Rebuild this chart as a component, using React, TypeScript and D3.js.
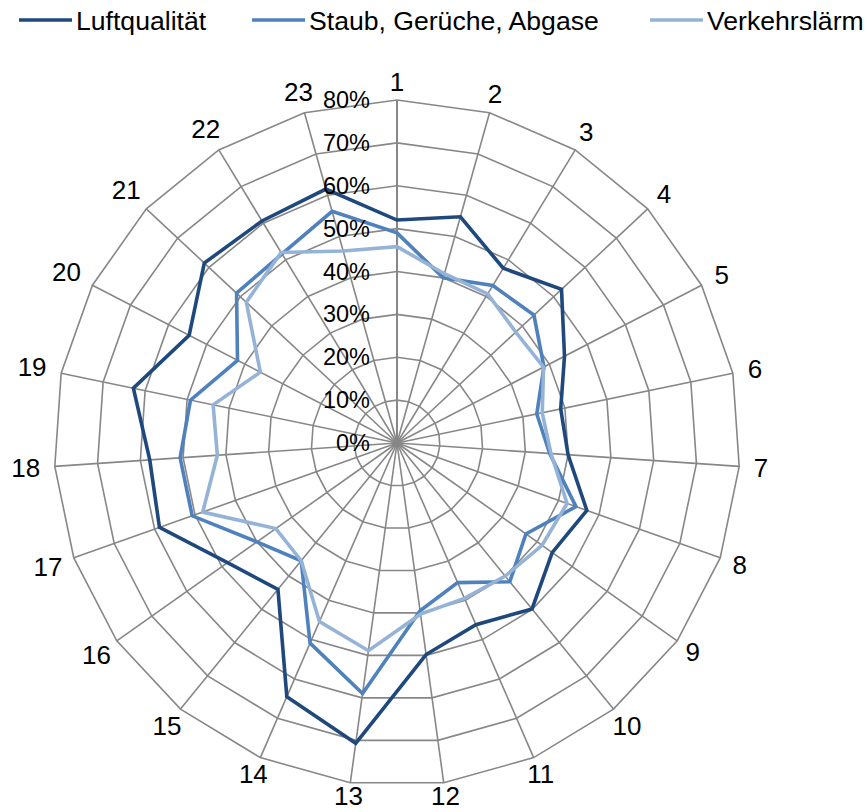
import React from "react";
import * as d3 from "d3";

const categories: string[] = Array.from({ length: 23 }, (_, i) => String(i + 1));

const luftqualitaet: number[] = [
  0.52, 0.548, 0.477, 0.525, 0.44, 0.39, 0.40, 0.47, 0.443, 0.499, 0.462, 0.498,
  0.707, 0.645, 0.44, 0.484, 0.588, 0.578, 0.628, 0.546, 0.615, 0.606, 0.615,
];
const staubGerueche: number[] = [
  0.49, 0.40, 0.43, 0.437, 0.386, 0.333, 0.357, 0.443, 0.368, 0.417, 0.355, 0.395,
  0.59, 0.509, 0.354, 0.40, 0.507, 0.507, 0.492, 0.419, 0.512, 0.516, 0.561,
];
const verkehrslaerm: number[] = [
  0.458, 0.41, 0.407, 0.379, 0.385, 0.346, 0.36, 0.421, 0.414, 0.40, 0.395, 0.403,
  0.489, 0.454, 0.354, 0.346, 0.481, 0.42, 0.438, 0.359, 0.481, 0.52, 0.465,
];

const seriesNames: string[] = ["Luftqualität", "Staub, Gerüche, Abgase", "Verkehrslärm"];
const seriesColors: string[] = ["#1F497D", "#4F81BD", "#95B3D7"];
const tickValues: number[] = [0, 0.1, 0.2, 0.3, 0.4, 0.5, 0.6, 0.7, 0.8];

const W = 867;
const H = 812;
const cx = 397;
const cy = 443;
const R = 343;
const FONT = "Arial, 'Liberation Sans', sans-serif";

export default function App() {
  const series = [luftqualitaet, staubGerueche, verkehrslaerm];
  const n = categories.length;
  const angle = d3
    .scaleLinear()
    .domain([0, n])
    .range([0, 2 * Math.PI]);
  const r = d3.scaleLinear().domain([0, 0.8]).range([0, R]);

  const pt = (i: number, v: number): [number, number] => {
    const a = angle(i);
    return [cx + r(v) * Math.sin(a), cy - r(v) * Math.cos(a)];
  };

  const closed = d3
    .line<[number, number]>()
    .x((d) => d[0])
    .y((d) => d[1])
    .curve(d3.curveLinearClosed);

  const fmt = d3.format(".0%");

  const legendItems = [
    { x: 19, len: 53 },
    { x: 252, len: 53 },
    { x: 650, len: 53 },
  ];

  return (
    <svg
      width={W}
      height={H}
      style={{ position: "absolute", left: 0, top: 0, background: "#fff" }}
      fontFamily={FONT}
    >
      {/* concentric grid polygons */}
      {tickValues.slice(1).map((t) => (
        <path
          key={"ring" + t}
          d={closed(categories.map((_, i) => pt(i, t))) || ""}
          fill="none"
          stroke="#878787"
          strokeWidth={1.6}
        />
      ))}
      {/* spokes */}
      {categories.map((_, i) => {
        const [x, y] = pt(i, 0.8);
        return (
          <line
            key={"spoke" + i}
            x1={cx}
            y1={cy}
            x2={x}
            y2={y}
            stroke="#878787"
            strokeWidth={i === 0 ? 2 : 1.6}
          />
        );
      })}
      {/* category labels */}
      {categories.map((c, i) => {
        const a = angle(i);
        const s = Math.sin(a);
        const co = Math.cos(a);
        const halfW = c.length * 7.2;
        const dist = R + 15 + halfW * Math.abs(s) + (co > 0 ? 3 : 3.5) * co;
        return (
          <text
            key={"cat" + i}
            x={cx + dist * s}
            y={cy - dist * co}
            textAnchor="middle"
            dominantBaseline="central"
            fontSize={26}
            fill="#000"
          >
            {c}
          </text>
        );
      })}
      {/* series */}
      {series.map((vals, si) => (
        <path
          key={"s" + si}
          d={closed(vals.map((v, i) => pt(i, v))) || ""}
          fill="none"
          stroke={seriesColors[si]}
          strokeWidth={3.6}
          strokeLinejoin="miter"
        />
      ))}
      {/* radial tick labels */}
      {tickValues.map((t) => (
        <text
          key={"tick" + t}
          x={cx - 27}
          y={cy - r(t)}
          textAnchor="end"
          dominantBaseline="central"
          fontSize={23.5}
          fill="#000"
        >
          {fmt(t)}
        </text>
      ))}
      {/* legend */}
      {seriesNames.map((name, si) => (
        <g key={"leg" + si}>
          <line
            x1={legendItems[si].x}
            x2={legendItems[si].x + legendItems[si].len}
            y1={20}
            y2={20}
            stroke={seriesColors[si]}
            strokeWidth={3.6}
          />
          <text
            x={legendItems[si].x + legendItems[si].len + 4}
            y={21}
            dominantBaseline="central"
            fontSize={26.6}
            fill="#000"
          >
            {name}
          </text>
        </g>
      ))}
    </svg>
  );
}
